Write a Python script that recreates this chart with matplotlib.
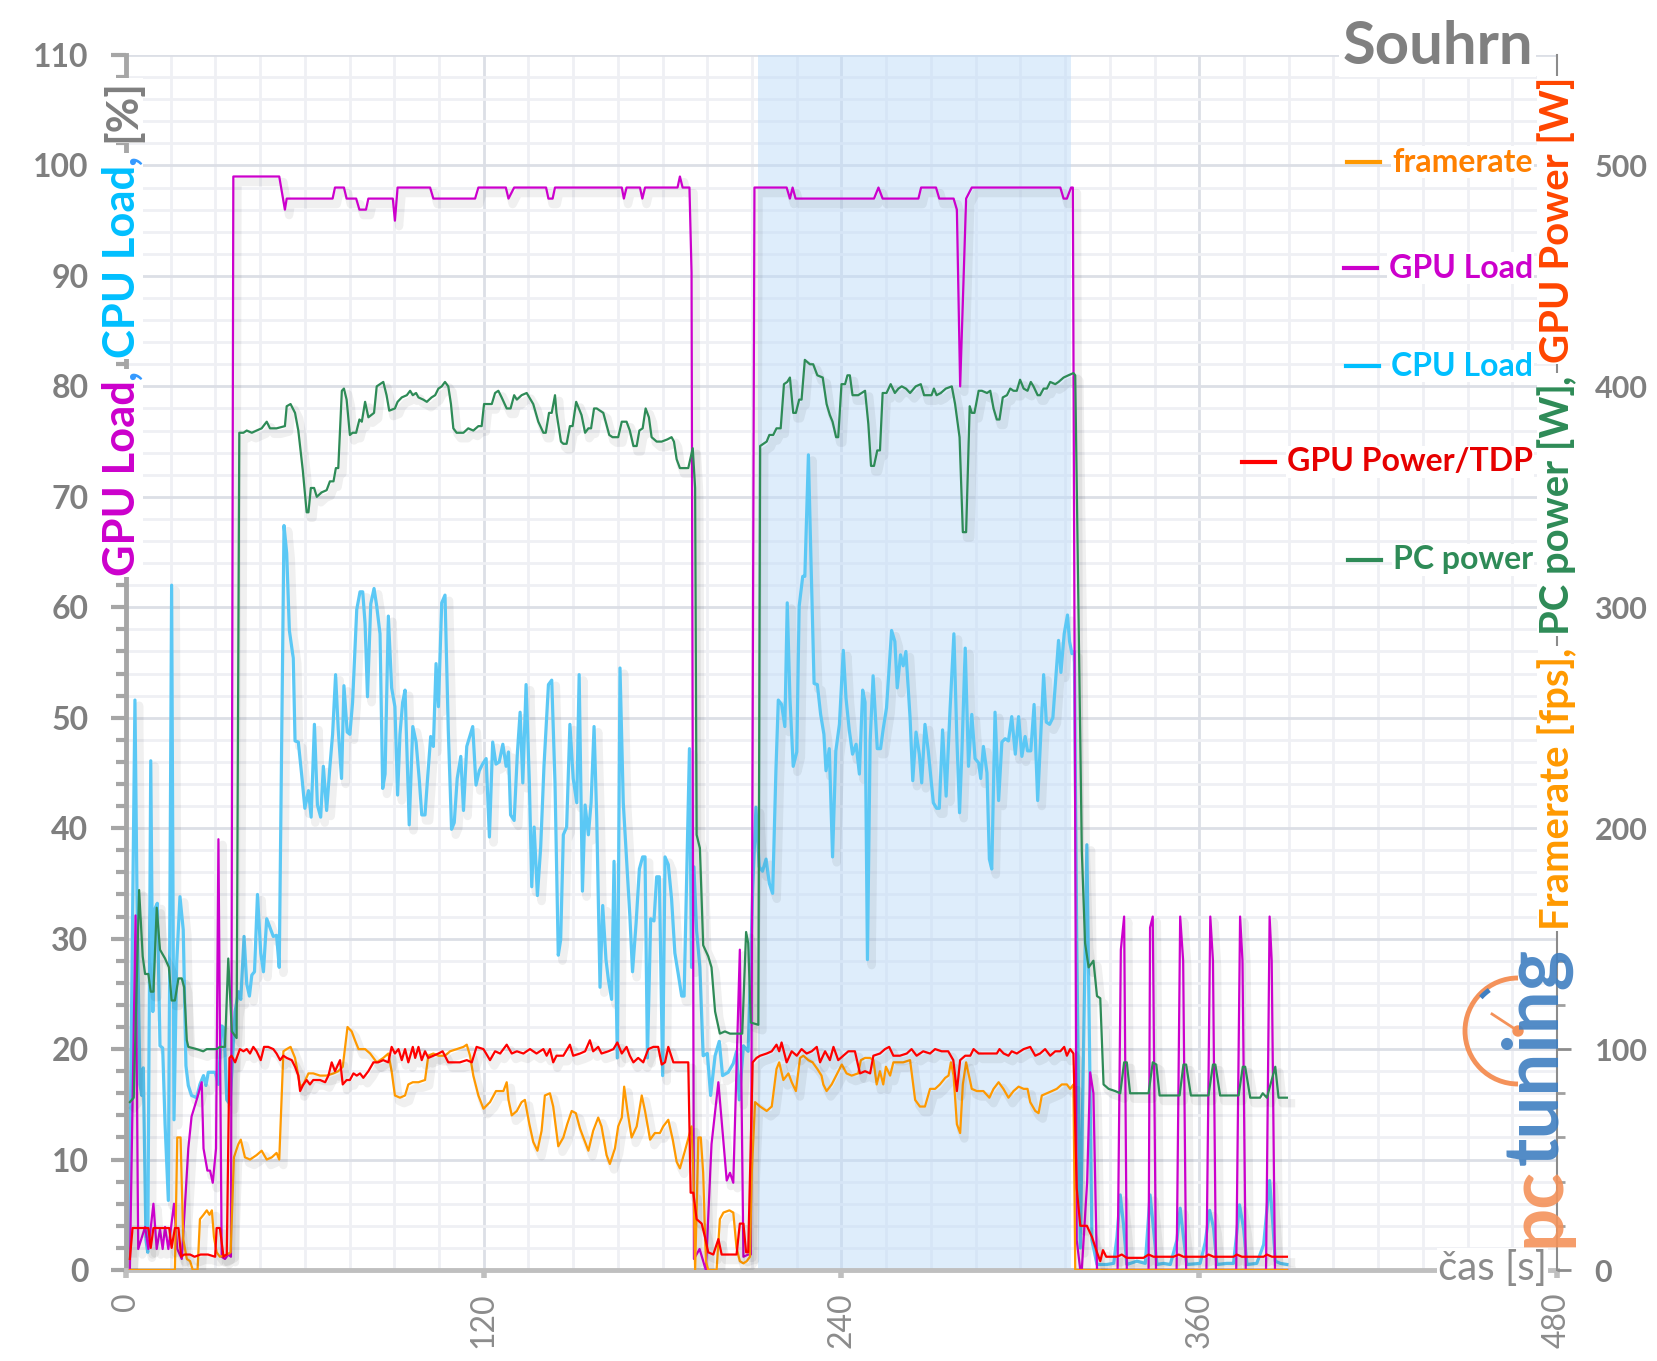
import matplotlib
matplotlib.use("Agg")
import matplotlib.pyplot as plt
import matplotlib.patheffects as pe
from matplotlib.lines import Line2D
from matplotlib.patches import Arc, Circle
from matplotlib.transforms import IdentityTransform

plt.rcParams['font.family'] = ['Lato', 'DejaVu Sans']

# ---- data ----
gpu_load_t = [1.3, 3.2, 4.1, 6.4, 7.5, 9.2, 10.3, 11.4, 12.3, 13.1, 14.2, 16.1, 17.2, 18.7, 20.9, 22.0,
              23.7, 25.4, 26.0, 27.3, 28.2, 29.1, 30.2, 31.0, 32.1, 33.2, 34.3, 35.2, 36.0, 51.4, 53.3,
              53.9, 69.3, 70.1, 73.1, 74.0, 77.2, 78.3, 80.5, 81.3, 89.5, 90.2, 91.1, 102.0, 103.1, 117.1,
              118.2, 127.4, 128.3, 130.2, 140.9, 141.7, 143.1, 143.9, 166.3, 167.0, 167.9, 172.4, 173.2,
              174.1, 185.0, 185.8, 186.7, 189.0, 189.7, 190.5, 192.4, 194.5, 196.4, 198.7, 201.5, 202.6,
              203.7, 205.9, 207.1, 208.7, 209.6, 210.8, 221.6, 222.7, 223.6, 224.6, 250.9, 252.4, 253.8,
              265.8, 266.7, 271.7, 272.8, 277.6, 278.7, 279.8, 281.8, 283.7, 313.4, 314.5, 315.6, 317.0,
              317.6, 318.9, 320.1, 320.6, 322.4, 323.4, 324.5, 325.7,
              332.6, 333.7, 334.8, 335.7, 343.0, 343.5, 344.4, 345.5, 352.4, 353.6, 354.6, 355.6,
              362.4, 363.7, 364.6, 365.6, 372.4, 373.7, 374.5, 375.6, 382.4, 383.6, 384.3, 385.4, 389.5]
gpu_load = [0, 32.1, 1.9, 3.9, 1.9, 6.0, 1.9, 3.7, 1.9, 3.9, 1.9, 6.0, 1.9, 1.0, 11.0, 13.9,
            15.4, 17.0, 11.0, 9.0, 9.0, 7.9, 11.0, 39.0, 1.2, 1.0, 1.4, 1.2, 99, 99, 96,
            97, 97, 98, 98, 97, 97, 96, 96, 97, 97, 95, 98, 98, 97, 97,
            98, 98, 97, 98, 98, 97, 97, 98, 98, 97, 98, 98, 97,
            98, 98, 99, 98, 98, 90.3, 1.0, 1.9, 0, 11.4, 17.0, 8.1, 8.8,
            7.9, 29.0, 1.2, 1.4, 1.4, 98, 98, 97, 98, 97, 97, 98, 97,
            97, 98, 98, 97, 97, 96, 80.0, 97, 98, 98, 97, 97, 98,
            98, 2.7, 0, 0, 8.0, 17.9, 16.0, 0,
            0, 29, 32, 0, 0, 31, 32, 0, 0, 32, 28, 0,
            0, 32, 28, 0, 0, 32, 28, 0, 0, 32, 28, 0, 0]

cpu_load_t = [1.0, 3.0, 3.8, 4.7, 5.3, 5.8, 6.7, 7.3, 8.3, 9.0, 9.7, 10.5, 11.4, 12.3, 13.1, 14.2, 15.3,
              16.1, 17.0, 18.1, 19.2, 20.1, 20.9, 22.0, 23.7, 24.8, 26.0, 26.8, 27.6, 28.7, 29.9, 31.0,
              32.1, 32.9, 33.8, 34.9, 36.6, 37.7, 38.5, 39.6, 40.5, 41.4, 42.2, 43.1, 44.1, 45.2, 46.1,
              47.2, 48.3, 49.4, 50.5, 51.4, 53.0, 53.9, 54.8, 56.1, 56.7, 57.8, 58.9, 60.0, 61.2, 62.1,
              63.2, 64.2, 65.3, 66.2, 67.3, 68.4, 69.3, 70.3, 71.2, 72.3, 73.1, 74.2, 75.1, 76.0, 77.4,
              78.5, 79.4, 80.2, 81.0, 82.1, 83.2, 84.1, 85.2, 86.1, 86.9, 88.0, 89.1, 90.2, 91.1, 91.9,
              92.8, 93.6, 94.4, 95.0, 96.2, 97.3, 98.4, 99.2, 100.3, 101.1, 102.2, 103.1, 104.0, 104.8,
              105.9, 107.0, 108.1, 109.2, 110.1, 111.1, 112.3, 113.2, 114.3, 116.3, 117.4, 118.5, 119.6,
              120.8, 121.9, 123.0, 124.1, 125.2, 126.4, 127.5, 128.3, 129.0, 130.2, 131.3, 132.2, 133.1,
              134.2, 135.3, 136.1, 136.9, 138.0, 139.1, 140.2, 141.7, 142.8, 143.9, 145.0, 145.8, 146.7,
              147.8, 148.9, 150.0, 151.2, 152.0, 153.1, 154.0, 155.1, 156.0, 157.0, 157.9, 159.0, 159.9,
              161.0, 161.8, 162.9, 163.7, 164.8, 165.7, 166.8, 167.9, 169.0, 169.9, 171.1, 172.2, 173.3,
              174.1, 174.9, 176.0, 177.1, 178.0, 178.9, 180.0, 180.8, 181.9, 183.0, 184.1, 185.3, 186.4,
              187.2, 188.1, 189.0, 189.7, 190.5, 191.4, 192.5, 193.6, 195.0, 196.1, 197.6, 199.0, 200.1,
              202.0, 203.7, 204.8, 205.7, 207.1, 208.7, 210.2, 211.3, 212.4, 213.5, 214.7, 215.8, 216.9,
              218.0, 218.8, 219.9, 221.0, 221.8, 222.7, 223.8, 225.0, 225.8, 227.0, 227.7, 228.9, 229.7,
              230.8, 231.9, 233.0, 234.1, 234.8, 235.9, 237.0, 238.1, 239.3, 240.6, 241.5, 242.6, 243.7,
              244.9, 246.0, 247.1, 247.9, 248.7, 249.6, 250.6, 252.0, 253.1, 254.0, 255.1, 256.8, 257.9,
              258.7, 259.8, 260.7, 261.6, 263.0, 263.9, 265.0, 266.1, 266.9, 268.0, 269.1, 270.8, 271.9,
              272.8, 273.9, 275.1, 276.4, 277.7, 278.7, 279.6, 280.4, 281.5, 282.6, 283.7, 284.8, 286.0,
              286.7, 287.6, 288.8, 289.6, 290.4, 291.5, 292.7, 293.8, 294.9, 296.0, 297.1, 298.3, 299.4,
              300.5, 301.6, 302.4, 303.5, 304.6, 305.8, 306.6, 307.8, 308.7, 309.8, 310.9, 312.8, 313.6,
              314.7, 315.8, 316.5, 317.3, 318.1, 318.9, 320.1, 321.2, 322.3, 323.2, 324.0, 325.7, 329.0,
              331.3, 332.4, 333.5, 334.6, 335.7, 339.1, 341.9, 343.5, 344.7, 345.8, 348.0, 350.3, 352.5,
              353.6, 354.7, 355.8, 360.3, 362.0, 363.5, 364.8, 365.9, 369.3, 371.5, 372.6, 373.5, 374.9,
              376.0, 379.3, 381.6, 383.6, 384.7, 385.5, 387.2, 389.4]
cpu_load = [2.0, 51.6, 31.0, 16.8, 15.8, 18.3, 2.7, 1.6, 46.1, 23.4, 32.7, 33.2, 20.3, 20.1, 13.2, 6.3, 62.0,
            13.6, 27.8, 33.8, 30.8, 18.5, 16.7, 15.8, 15.6, 16.8, 17.6, 16.7, 17.9, 17.9, 17.9, 16.8,
            22.1, 21.9, 15.4, 15.0, 23.4, 25.2, 24.5, 30.2, 25.9, 24.8, 26.7, 27.0, 34.0, 28.7, 27.0,
            31.8, 31.0, 30.2, 30.3, 27.4, 67.4, 64.9, 57.9, 55.4, 47.9, 47.8, 44.9, 41.8, 43.4, 41.0,
            49.4, 42.1, 41.0, 45.6, 41.6, 45.6, 48.5, 53.9, 48.9, 44.5, 52.9, 48.7, 48.5, 51.4, 59.8,
            61.4, 61.4, 58.5, 51.9, 60.3, 61.7, 60.1, 57.6, 43.6, 44.9, 59.2, 52.7, 51.0, 43.0, 48.5,
            51.4, 52.5, 45.6, 40.3, 49.2, 47.8, 44.3, 41.2, 41.2, 44.3, 48.3, 47.4, 54.9, 51.0,
            60.4, 61.1, 48.9, 39.9, 40.5, 44.5, 46.5, 41.6, 47.4, 49.2, 43.9, 45.2, 45.8,
            46.3, 39.2, 47.8, 45.8, 46.0, 47.6, 45.6, 46.9, 41.2, 40.7, 46.9, 50.5, 44.1,
            53.0, 44.1, 34.7, 40.1, 33.9, 38.3, 45.6, 53.0, 53.4, 44.1, 28.5, 29.9, 39.4,
            40.1, 49.4, 44.5, 42.3, 53.9, 34.3, 42.1, 39.4, 42.3, 49.2, 40.9, 25.6, 33.0,
            28.1, 26.3, 24.5, 37.0, 19.2, 54.5, 42.3, 37.2, 32.1, 27.0, 31.4, 36.3, 37.4,
            37.4, 19.2, 31.8, 31.6, 35.6, 35.6, 17.6, 37.4, 36.7, 33.6, 28.7, 26.7, 24.8,
            24.8, 35.8, 47.2, 27.4, 36.5, 30.7, 27.4, 19.4, 19.6, 15.8, 19.4, 20.7, 17.6,
            17.9, 18.7, 19.8, 15.4, 20.3, 19.8, 34.3, 41.9, 36.5, 36.1, 37.2, 35.0, 34.1,
            45.2, 51.6, 51.2, 49.2, 60.4, 51.8, 45.6, 46.9, 60.1, 62.8, 62.8, 73.8, 64.9,
            53.1, 53.0, 50.3, 48.5, 45.2, 47.2, 37.4, 47.0, 49.4, 56.1, 51.8, 48.9, 46.7,
            47.6, 44.9, 52.5, 51.4, 28.1, 47.8, 53.8, 47.2, 47.2, 49.0, 50.9, 57.9, 56.9,
            52.7, 55.7, 54.7, 56.0, 50.0, 44.3, 48.7, 46.7, 44.1, 49.4, 47.0, 42.3, 41.8,
            41.8, 48.9, 42.9, 50.7, 57.6, 48.1, 41.4, 47.0, 56.3, 45.6, 50.3, 46.3, 45.9,
            44.5, 47.4, 45.0, 37.2, 36.3, 50.5, 42.5, 47.8, 48.1, 47.9, 50.1, 46.7, 50.1,
            46.5, 48.3, 47.0, 47.0, 51.2, 42.5, 47.0, 53.9, 49.6, 49.4, 50.0, 57.0, 54.1,
            57.6, 59.3, 56.9, 55.8, 56.0, 30.0, 2.0, 20.0, 38.5, 20.0, 2.7, 0.5, 0.5,
            0.6, 3.0, 6.8, 4.1, 0.5, 0.8, 0.6, 6.8, 3.6, 0.5, 0.6, 0.5, 2.7,
            5.6, 3.0, 0.5, 0.6, 2.5, 5.4, 3.8, 0.5, 0.6, 0.6, 3.4, 5.9, 3.7,
            0.5, 0.6, 2.3, 8.1, 4.1, 0.8, 0.6, 0.5]

pc_power_t = [1.3, 2.6, 4.4, 5.6, 6.4, 7.5, 8.3, 9.2, 10.3, 11.4, 13.1, 14.4, 15.3, 16.4, 17.6, 18.7, 19.5,
              20.4, 20.9, 23.7, 25.9, 27.1, 30.4, 31.5, 33.2, 34.3, 35.5, 37.1, 38.0, 39.4, 40.5, 42.2,
              43.8, 45.5, 47.2, 48.3, 50.5, 53.3, 53.9, 55.2, 56.7, 57.8, 59.3, 60.6, 61.2, 62.0, 63.1,
              64.0, 65.6, 67.3, 68.4, 69.6, 70.4, 71.2, 72.4, 73.1, 74.0, 75.1, 76.0, 77.2, 78.3, 79.1,
              80.2, 81.3, 83.2, 84.1, 86.3, 87.4, 88.3, 90.2, 91.1, 92.5, 94.2, 95.3, 96.2, 97.3, 98.1,
              99.7, 100.9, 102.5, 103.7, 104.8, 105.9, 107.0, 108.1, 109.0, 109.8, 110.9, 113.2, 114.8,
              116.5, 118.2, 119.3, 120.1, 122.7, 123.8, 124.9, 126.0, 127.7, 129.0, 130.2, 131.1, 132.7,
              134.4, 136.6, 138.3, 140.0, 140.8, 141.9, 142.8, 143.9, 144.4, 145.9, 146.7, 147.8, 148.9,
              149.8, 151.0, 152.8, 154.0, 155.1, 156.0, 157.0, 157.9, 160.1, 162.1, 163.2, 165.1, 166.3,
              167.9, 169.0, 170.2, 171.3, 172.2, 173.3, 174.3, 175.4, 176.3, 178.0, 179.7, 181.6, 183.0,
              183.8, 184.7, 185.8, 186.9, 188.6, 190.1, 190.9, 191.4, 192.5, 193.6, 195.3, 196.4, 197.6,
              199.2, 200.9, 202.6, 204.8, 206.7, 208.0, 208.7, 209.6, 212.1, 212.7, 213.8, 214.9, 215.8,
              217.1, 218.2, 219.6, 220.7, 221.8, 222.7, 223.8, 224.7, 225.8, 226.6, 227.7, 229.4, 230.5,
              231.9, 233.7, 235.0, 236.1, 237.0, 238.2, 238.9, 240.0, 241.2, 242.0, 242.8, 243.7, 245.6,
              247.9, 249.0, 249.9, 250.9, 252.0, 252.9, 253.8, 255.1, 256.5, 257.9, 259.1, 260.2, 261.6,
              263.0, 264.9, 266.6, 267.7, 269.1, 270.2, 271.0, 271.9, 273.3, 275.0, 277.0, 278.1, 279.6,
              280.7, 281.8, 283.0, 283.7, 284.6, 286.0, 287.1, 288.8, 289.9, 291.0, 292.1, 293.0, 294.1,
              295.5, 296.6, 297.7, 298.8, 299.9, 301.1, 302.4, 303.5, 304.4, 305.8, 306.6, 307.8, 308.9,
              310.0, 311.7, 312.8, 314.5, 316.1, 317.8, 318.4, 320.6, 321.7, 322.9, 324.5, 325.7, 326.8,
              327.9, 329.6, 331.8, 333.5, 334.8, 335.7, 336.8, 343.0, 344.4, 345.6, 346.7, 350.3, 353.4,
              354.7, 355.6, 357.2, 363.1, 364.6, 365.4, 367.0, 373.2, 374.6, 375.4, 377.1, 380.4, 381.3,
              382.7, 385.5, 386.6, 389.4]
pc_power = [76, 78, 172, 142, 134, 134, 126, 126, 164, 145, 141, 137, 122, 122, 132, 132, 128,
            104, 101, 100, 99, 100, 100, 101, 101, 141, 108, 105, 379, 379, 380, 379,
            380, 381, 384, 381, 381, 382, 391, 392, 388, 380, 362, 343, 343, 354, 354,
            350, 352, 353, 357, 357, 363, 363, 398, 399, 394, 378, 379, 379, 385, 384,
            393, 386, 388, 400, 402, 396, 389, 390, 393, 395, 396, 398, 396, 397, 395,
            394, 393, 395, 396, 399, 400, 402, 400, 392, 381, 379, 379, 381,
            380, 382, 382, 392, 392, 397, 398, 395, 390, 390, 396, 394, 396,
            397, 392, 384, 379, 379, 388, 388, 396, 388, 375, 374, 374, 382,
            382, 393, 387, 379, 381, 381, 390, 390, 388, 378, 377, 377, 384,
            384, 380, 373, 373, 380, 381, 390, 386, 377, 375, 375, 376, 377,
            375, 367, 363, 363, 363, 372, 354, 197, 191, 147, 142, 137, 117,
            107, 108, 107, 107, 107, 153, 148, 112, 111, 373, 374, 375, 378,
            378, 381, 381, 401, 402, 404, 388, 388, 394, 394, 412, 410, 410,
            405, 404, 392, 387, 384, 377, 377, 401, 401, 405, 405, 396, 396,
            398, 383, 364, 364, 371, 371, 397, 397, 401, 397, 399, 400, 399,
            397, 400, 401, 396, 396, 396, 399, 396, 397, 399, 400, 392, 377,
            334, 334, 391, 388, 388, 398, 398, 397, 398, 390, 385, 385, 395,
            396, 399, 398, 398, 403, 399, 398, 402, 400, 396, 396, 399, 399,
            402, 401, 402, 404, 405, 406, 405, 190, 148, 137, 140, 124, 123,
            84, 82, 81, 80, 94, 94, 80, 80, 94, 93, 79, 79, 79,
            93, 93, 79, 79, 93, 93, 79, 79, 92, 92, 78, 78, 80,
            78, 92, 78, 78]

gpu_power_t = [1.3, 2.2, 7.5, 8.3, 9.2, 14.5, 15.3, 16.4, 17.6, 18.5, 19.5, 21.5, 23.0, 25.0, 27.5, 29.9,
               30.4, 31.5, 32.7, 33.8, 34.7, 35.4, 36.6, 38.2, 39.4, 40.5, 41.6, 42.7, 43.8, 45.2, 46.3,
               47.7, 49.4, 50.5, 51.7, 52.8, 53.9, 55.6, 56.7, 57.8, 58.4, 59.5, 60.6, 61.7, 62.8, 65.1,
               66.8, 67.9, 69.0, 70.1, 71.8, 72.7, 74.0, 75.1, 76.3, 77.4, 78.5, 79.6, 81.3, 83.0, 84.6,
               86.3, 88.0, 89.1, 90.2, 91.4, 92.5, 93.6, 94.7, 96.2, 97.0, 98.1, 99.2, 100.3, 101.4,
               103.1, 104.8, 106.2, 108.1, 109.8, 112.0, 114.3, 116.0, 117.6, 119.9, 122.1, 123.8, 125.5,
               127.7, 129.4, 131.1, 133.3, 135.5, 137.7, 140.0, 141.1, 142.2, 143.3, 144.4, 146.7, 148.9,
               150.0, 152.3, 154.0, 155.6, 156.7, 158.4, 159.5, 161.8, 163.5, 164.8, 166.3, 167.9, 169.0,
               170.2, 171.8, 173.5, 175.2, 176.9, 178.5, 179.7, 180.8, 181.9, 183.6, 185.8, 188.6, 189.4,
               190.3, 191.4, 193.1, 194.2, 195.3, 197.0, 198.7, 199.8, 202.6, 204.8, 205.9, 207.1, 208.0,
               208.7, 210.2, 211.5, 212.7, 214.9, 216.6, 218.2, 219.1, 219.9, 221.6, 223.3, 225.0, 226.6,
               228.3, 230.0, 231.7, 232.8, 234.5, 236.1, 237.3, 238.9, 240.6, 242.3, 244.5, 246.2, 247.9,
               249.6, 250.7, 252.9, 254.6, 256.0, 257.4, 259.6, 261.9, 263.5, 265.2, 267.4, 269.7, 271.4,
               273.6, 275.8, 277.5, 278.7, 279.8, 281.5, 283.2, 284.3, 286.0, 288.8, 292.1, 293.0, 294.4,
               296.0, 297.1, 298.8, 301.1, 303.3, 305.0, 306.6, 308.3, 310.0, 311.7, 313.4, 314.7, 315.6,
               316.7, 317.8, 318.9, 320.1, 322.3, 324.0, 325.7, 326.8, 327.7, 328.8, 332.4, 334.0, 335.7,
               341.3, 343.0, 344.7, 351.4, 353.1, 354.7, 362.0, 363.1, 364.8, 371.5, 372.6, 374.3, 381.6,
               382.7, 384.4, 389.4]
gpu_power = [5, 19, 19, 10, 19, 19, 10, 19, 19, 6, 7, 7, 6, 7, 7, 6,
             19, 19, 6, 7, 96, 97, 94, 100, 99, 100, 98, 101, 99, 95, 101,
             101, 100, 98, 95, 97, 96, 95, 92, 88, 81, 84, 86, 84, 86, 86,
             85, 88, 94, 90, 95, 84, 86, 86, 89, 88, 89, 87, 90, 94, 94,
             95, 94, 101, 98, 100, 95, 100, 94, 101, 96, 101, 95, 99, 96,
             97, 98, 99, 94, 94, 94, 95, 94, 101, 100, 95, 99, 98,
             102, 98, 99, 98, 100, 98, 100, 97, 100, 94, 97, 97, 102,
             97, 98, 99, 104, 99, 101, 98, 99, 100, 103, 98, 101, 97,
             94, 96, 94, 100, 101, 101, 93, 94, 101, 94, 94, 94, 35,
             35, 23, 21, 15, 8, 7, 14, 7, 7, 7, 21, 21, 8,
             8, 94, 96, 97, 98, 99, 102, 99, 103, 94, 99, 97, 100,
             98, 99, 101, 94, 99, 95, 101, 95, 97, 99, 99, 89, 90,
             89, 97, 98, 100, 101, 97, 97, 98, 100, 97, 99, 98, 100,
             99, 99, 95, 81, 95, 97, 97, 100, 98, 98, 98, 100, 98,
             97, 99, 98, 100, 101, 97, 98, 100, 97, 99, 99, 101, 97,
             100, 98, 37, 20, 20, 15, 8, 4, 9, 6, 6, 7, 5.5,
             5.5, 7, 6, 6, 7, 6, 6, 7, 6, 6, 7, 6, 6,
             7, 6, 6]

fps_t = [1.3, 16.4, 17.2, 18.3, 19.2, 20.4, 21.5, 22.4, 24.0, 24.8, 26.0, 27.1, 28.0, 28.8, 29.5, 30.4,
         31.5, 33.8, 35.1, 36.2, 37.7, 38.5, 39.9, 41.6, 43.8, 45.5, 47.2, 48.9, 50.5, 51.4, 52.8, 53.9,
         55.2, 56.7, 57.8, 58.4, 59.5, 61.2, 62.8, 65.1, 67.3, 69.6, 71.2, 72.7, 74.3, 75.7, 76.8, 78.0,
         80.2, 81.9, 84.1, 86.3, 88.0, 89.1, 90.2, 91.9, 93.6, 94.7, 96.2, 98.1, 100.3, 101.4, 103.1,
         104.8, 107.0, 108.7, 110.9, 113.2, 114.3, 115.4, 116.5, 118.2, 119.9, 122.1, 124.1, 126.6,
         127.7, 128.3, 129.4, 131.1, 132.7, 133.8, 135.3, 136.6, 138.0, 139.4, 140.5, 142.2, 143.3,
         145.0, 146.7, 148.0, 149.5, 150.9, 152.3, 153.4, 155.1, 156.7, 158.4, 159.5, 161.2, 162.3,
         164.0, 165.1, 166.3, 167.1, 168.2, 169.6, 171.3, 173.0, 174.1, 175.8, 177.4, 179.1, 180.2,
         181.9, 183.4, 184.7, 185.8, 187.5, 189.7, 190.3, 190.9, 192.0, 192.8, 193.6, 194.5, 195.3,
         198.1, 199.2, 200.4, 202.4, 203.7, 204.8, 205.9, 207.1, 208.2, 209.3, 209.9, 211.0, 212.7,
         214.9, 216.6, 218.2, 219.1, 220.5, 222.2, 223.3, 224.7, 226.1, 227.2, 228.9, 230.3, 231.9,
         233.3, 233.9, 235.0, 236.7, 238.2, 240.1, 241.7, 243.4, 245.6, 246.5, 247.9, 249.6, 250.7,
         251.8, 252.9, 254.0, 254.9, 256.3, 257.4, 259.1, 260.7, 263.0, 264.7, 266.3, 268.0, 269.7,
         271.4, 273.0, 274.8, 275.9, 276.7, 277.6, 278.7, 279.8, 280.7, 281.8, 283.7, 285.4, 287.6,
         289.6, 291.0, 292.7, 294.3, 296.0, 297.7, 299.4, 301.1, 302.4, 303.3, 305.0, 306.1, 307.2,
         308.9, 310.6, 312.2, 313.9, 315.6, 316.7, 317.8, 318.4, 389.4]
fps = [0, 0, 60, 60, 14, 5, 4, 0, 0, 23, 25, 27, 25, 27, 15, 8,
       6, 7, 8, 51, 57, 59, 51, 50, 52, 54, 50, 51, 53, 50, 99, 100,
       101, 96, 88, 83, 84, 89, 89, 88, 88, 89, 90, 92, 110, 108, 104, 100,
       100, 98, 94, 96, 98, 90, 79, 78, 79, 84, 85, 85, 86, 97, 98,
       97, 97, 99, 100, 101, 102, 97, 88, 79, 73, 76, 81, 81,
       85, 77, 70, 72, 76, 77, 66, 58, 54, 63, 79, 80, 74,
       56, 60, 66, 72, 71, 64, 60, 54, 63, 69, 65, 52, 48,
       55, 65, 69, 83, 72, 60, 65, 79, 72, 59, 62, 62, 65,
       68, 59, 49, 46, 54, 65, 44, 0, 60, 60, 44, 4, 0,
       0, 23, 26, 27, 26, 10, 4, 3, 4, 6, 44, 76, 74,
       72, 74, 91, 94, 86, 89, 85, 81, 96, 97, 95, 94, 91,
       88, 84, 81, 84, 88, 93, 89, 88, 89, 95, 96, 96, 95,
       84, 90, 84, 92, 88, 94, 94, 94, 95, 77, 74, 74, 82,
       82, 84, 87, 88, 94, 88, 66, 62, 84, 94, 82, 81, 81,
       78, 82, 85, 82, 78, 81, 83, 82, 82, 76, 72, 71, 79,
       80, 81, 82, 84, 84, 82, 84, 0, 0]

x_ticks = [0, 120, 240, 360, 480]
x_labels = ['0', '120', '240', '360', '480']
left_ticks = [0, 10, 20, 30, 40, 50, 60, 70, 80, 90, 100, 110]
left_labels = ['0', '10', '20', '30', '40', '50', '60', '70', '80', '90', '100', '110']
right_ticks = [0, 100, 200, 300, 400, 500]
right_labels = ['0', '100', '200', '300', '400', '500']
highlight = (212, 317)

legend_items = [('framerate', '#FF8000', '#FF9900'),
                ('GPU Load', '#CC00CC', '#CC00CC'),
                ('CPU Load', '#00BFFF', '#00BFFF'),
                ('GPU Power/TDP', '#E60000', '#FF0000'),
                ('PC power', '#2E8B57', '#2E8B57')]

# ---- figure ----
W, H = 1658, 1361
fig = plt.figure(figsize=(W / 100, H / 100), dpi=100)
ax = fig.add_axes([126 / W, 91 / H, 1431 / W, 1215 / H])
ax2 = ax.twinx()

ax.set_xlim(0, 480)
ax.set_ylim(0, 110)
ax2.set_ylim(0, 550)

ax.set_xticks(x_ticks, labels=x_labels, rotation=90, fontsize=23, color='#8C8C8C')
ax.set_xticks(range(0, 481, 15), minor=True)
ax.set_yticks(left_ticks, labels=left_labels, fontsize=23, fontweight='bold', color='#7F7F7F')
ax.set_yticks(range(0, 111, 2), minor=True)
ax2.set_yticks(right_ticks, labels=right_labels, fontsize=22, fontweight='bold', color='#7F7F7F')
ax2.set_yticks(range(0, 551, 20), minor=True)

ax.grid(which='minor', color='#EFF0F4', lw=2)
ax.grid(which='major', color='#DCDFE6', lw=2)
ax.set_axisbelow(True)

ax.tick_params(axis='x', which='major', length=6, width=4, color='#BFBFBF', pad=10)
ax.tick_params(axis='x', which='minor', length=0)
ax.tick_params(axis='y', which='major', length=11, width=3, color='#A6A6A6', pad=16)
ax.tick_params(axis='y', which='minor', length=7, width=3, color='#A6A6A6')
ax2.tick_params(axis='y', which='major', length=10, width=2, color='#8C8C8C', pad=17)
ax2.tick_params(axis='y', which='minor', length=6, width=2, color='#A0A0A0')

for s in ['top', 'right']:
    ax.spines[s].set_visible(False)
for s in ['top', 'left', 'bottom']:
    ax2.spines[s].set_visible(False)
ax.spines['left'].set_color('#A6A6A6')
ax.spines['left'].set_linewidth(3.5)
ax.spines['bottom'].set_color('#BFBFBF')
ax.spines['bottom'].set_linewidth(3.5)
ax2.spines['right'].set_color('#8C8C8C')
ax2.spines['right'].set_linewidth(1.5)

ax.axvspan(*highlight, color='#BFDCF8', alpha=0.5, lw=0, zorder=1.5)

shadow = [pe.SimpleLineShadow(offset=(3, -4), shadow_color='#000000', alpha=0.06, linewidth=6), pe.Normal()]

ax.plot(cpu_load_t, cpu_load, color='#5BC8F5', lw=2.3, path_effects=shadow, zorder=2)
ax.plot(gpu_load_t, gpu_load, color='#CC00CC', lw=1.6, path_effects=shadow, zorder=3)
ax2.plot(pc_power_t, pc_power, color='#2E8B57', lw=1.6, path_effects=shadow, zorder=2)
ax2.plot(fps_t, fps, color='#FF9900', lw=1.6, path_effects=shadow, zorder=3)
ax2.plot(gpu_power_t, gpu_power, color='#FF0000', lw=1.6, path_effects=shadow, zorder=4)

renderer = fig.canvas.get_renderer()


def fx(x):
    return x / W


def fy(y):
    return 1 - y / H


def rotated_label(xc, y_bottom, y_top, pieces):
    # pieces: (text, colour, gap after in em); font size fitted to the span
    def lengths(size):
        out = []
        for txt, col, gap in pieces:
            t = fig.text(0, 0, txt, fontsize=size, fontweight='bold', rotation=90)
            out.append(t.get_window_extent(renderer).height)
            t.remove()
        return out
    base = 20
    ls = lengths(base)
    gaps = sum(g for _, _, g in pieces) * base * 100 / 72
    size = base * (y_bottom - y_top) / (sum(ls) + gaps)
    ls = lengths(size)
    y = y_bottom
    for (txt, col, gap), l in zip(pieces, ls):
        fig.text(fx(xc), fy(y), txt, fontsize=size, fontweight='bold', rotation=90, color=col,
                 ha='center', va='bottom', zorder=10,
                 bbox=dict(facecolor='white', edgecolor='none', pad=0.5))
        y -= l + gap * size * 100 / 72


rotated_label(122, 576, 80, [('GPU Load', '#CC00CC', 0), (',', '#3399FF', 0.28),
                             ('CPU Load', '#00BFFF', 0), (',', '#3399FF', 0.28),
                             ('[%]', '#7F7F7F', 0)])
rotated_label(1557, 930, 77, [('Framerate [fps]', '#FF9900', 0), (',', '#FF9900', 0.28),
                              ('PC power [W]', '#2E8B57', 0), (',', '#2E8B57', 0.28),
                              ('GPU Power [W]', '#FF4500', 0)])

# title and axis name
fig.text(fx(1533), fy(47), 'Souhrn', ha='right', va='center', fontsize=43, fontweight='bold',
         color='#808080', bbox=dict(facecolor='white', edgecolor='none', pad=2))
fig.text(fx(1547), fy(1268), 'čas [s]', ha='right', va='center', fontsize=29, color='#8C8C8C',
         bbox=dict(facecolor='white', edgecolor='none', pad=1), zorder=10)

# legend
leg_y = [162, 268, 366, 462, 560]
for (name, tcol, lcol), yc in zip(legend_items, leg_y):
    t = fig.text(fx(1533), fy(yc), name, ha='right', va='center', fontsize=23, fontweight='bold',
                 color=tcol, bbox=dict(facecolor='white', edgecolor='none', pad=1))
    bb = t.get_window_extent(renderer)
    x1 = bb.x0 - 12
    fig.add_artist(Line2D([fx(x1 - 33), fx(x1)], [fy(yc), fy(yc)], color=lcol, lw=3))

# pctuning logo
lt = fig.text(fx(1537), fy(1247), 'pc', rotation=90, ha='center', va='bottom', fontsize=55,
              fontweight='bold', color='#F4925A', alpha=0.9, zorder=11)
lb = lt.get_window_extent(renderer)
fig.text(fx(1537), (lb.y1 + 2) / H, 'tuning', rotation=90, ha='center', va='bottom', fontsize=55,
         fontweight='bold', color='#3F7FC1', alpha=0.9, zorder=11)
cx, cy, r = 1518, H - 1031, 53
fig.add_artist(Arc((cx, cy), 2 * r, 2 * r, theta1=90, theta2=270, transform=IdentityTransform(),
                   color='#F4925A', lw=3.5, zorder=11))
fig.add_artist(Arc((cx, cy), 2 * r - 6, 2 * r - 6, theta1=125, theta2=138, transform=IdentityTransform(),
                   color='#3F7FC1', lw=3.5, zorder=12))
fig.add_artist(Line2D([cx, cx - 26], [cy, cy + 17], transform=IdentityTransform(), color='#F4925A',
                      lw=2, zorder=11))
fig.add_artist(Circle((cx, cy), 5, transform=IdentityTransform(), color='#F4925A', zorder=11))

fig.savefig('out.png', dpi=100)
